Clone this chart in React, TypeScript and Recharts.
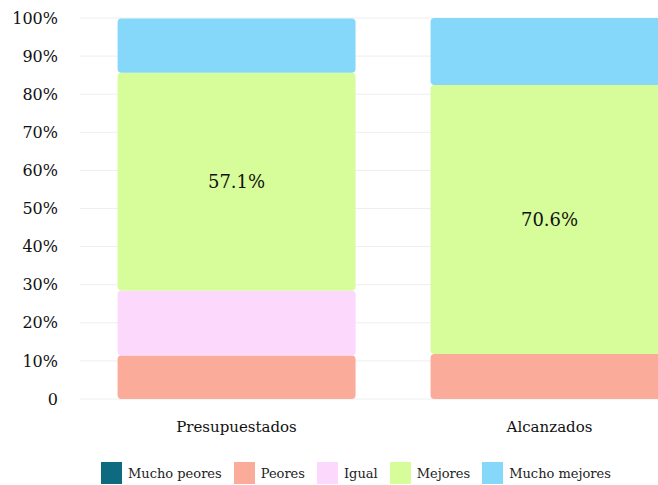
import { BarChart, Bar, XAxis, YAxis, CartesianGrid, Legend, LabelList } from "recharts";

const categories = ["Presupuestados", "Alcanzados"];
const muchoPeores = [0, 0];
const peores = [11.4, 11.8];
const igual = [17.1, 0];
const mejores = [57.1, 70.6];
const muchoMejores = [14.3, 17.6];
const yTicks = [0, 10, 20, 30, 40, 50, 60, 70, 80, 90, 100];

const series = [
  { key: "muchoPeores", name: "Mucho peores", color: "#0e6a7e" },
  { key: "peores", name: "Peores", color: "#fbab9a" },
  { key: "igual", name: "Igual", color: "#fcd8fc" },
  { key: "mejores", name: "Mejores", color: "#d6fd9a" },
  { key: "muchoMejores", name: "Mucho mejores", color: "#86d8fb" },
];

const data = categories.map((name, i) => ({
  name,
  muchoPeores: muchoPeores[i],
  peores: peores[i],
  igual: igual[i],
  mejores: mejores[i],
  muchoMejores: muchoMejores[i],
}));

const font = "'DejaVu Serif', serif";

function LegendBox() {
  return (
    <div style={{ display: "flex", alignItems: "center", fontFamily: font, fontSize: 13, color: "#222" }}>
      {series.map((s) => (
        <div key={s.key} style={{ display: "flex", alignItems: "center", marginRight: 12 }}>
          <span style={{ width: 21, height: 22, background: s.color, display: "inline-block", marginRight: 6 }} />
          <span>{s.name}</span>
        </div>
      ))}
    </div>
  );
}

export default function App() {
  return (
    <div style={{ position: "absolute", left: 0, top: 0, width: 658, height: 485, overflow: "hidden", background: "#fff" }}>
      <BarChart
        width={800}
        height={485}
        data={data}
        margin={{ top: 18, right: 94, left: 0, bottom: 34 }}
        barCategoryGap="12%"
      >
        <CartesianGrid vertical={false} stroke="#eeeeee" />
        <XAxis
          dataKey="name"
          axisLine={false}
          tickLine={false}
          tickSize={0}
          tickMargin={22}
          tick={{ fill: "#111", fontSize: 15, fontFamily: font }}
        />
        <YAxis
          width={80}
          domain={[0, 100]}
          ticks={yTicks}
          interval={0}
          axisLine={false}
          tickLine={false}
          tickSize={0}
          tickMargin={22}
          tickFormatter={(v: number) => (v === 0 ? "0" : `${v}%`)}
          tick={{ fill: "#111", fontSize: 16, fontFamily: font }}
        />
        <Legend
          content={() => <LegendBox />}
          wrapperStyle={{ position: "absolute", left: 101, top: 462, width: 620 }}
        />
        {series.map((s) => (
          <Bar
            key={s.key}
            dataKey={s.key}
            name={s.name}
            stackId="a"
            fill={s.color}
            radius={4}
            isAnimationActive={false}
          >
            {s.key === "mejores" && (
              <LabelList
                dataKey="mejores"
                position="center"
                formatter={(v: number) => `${v}%`}
                style={{ fill: "#111", fontSize: 18, fontFamily: font }}
              />
            )}
          </Bar>
        ))}
      </BarChart>
    </div>
  );
}
